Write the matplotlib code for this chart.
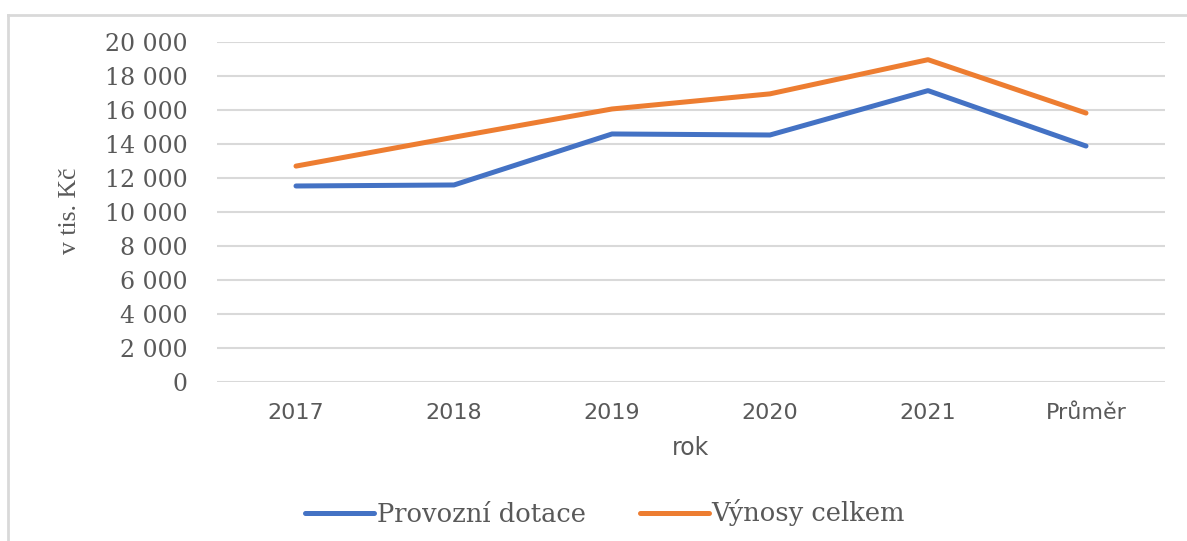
import numpy as np
import matplotlib.pyplot as plt
from matplotlib.lines import Line2D
from matplotlib.ticker import FuncFormatter

categories = ['2017', '2018', '2019', '2020', '2021', 'Průměr']
provozni_dotace = [11530, 11590, 14590, 14530, 17140, 13880]
vynosy_celkem = [12700, 14400, 16060, 16950, 18960, 15820]
yticks = np.arange(0, 20001, 2000)

grey = '#595959'
serif = ['DejaVu Serif']
times = ['Liberation Serif', 'DejaVu Serif']
sans = ['DejaVu Sans']

W, H = 1187, 541
fig = plt.figure(figsize=(W / 100, H / 100), dpi=100)
ax = fig.add_axes([217 / W, 1 - 382 / H, (1165 - 217) / W, (382 - 42) / H])

x = np.arange(len(categories))
ax.plot(x, provozni_dotace, color='#4472C4', lw=3.6, solid_capstyle='round',
        solid_joinstyle='round', label='Provozní dotace', zorder=3)
ax.plot(x, vynosy_celkem, color='#ED7D31', lw=3.6, solid_capstyle='round',
        solid_joinstyle='round', label='Výnosy celkem', zorder=3)

ax.set_xlim(-0.5, len(categories) - 0.5)
ax.set_ylim(0, 20000)
ax.set_yticks(yticks)
ax.yaxis.set_major_formatter(FuncFormatter(lambda v, p: f'{int(v):,}'.replace(',', ' ')))
ax.set_xticks(x)
ax.set_xticklabels(categories)
ax.grid(axis='y', color='#d9d9d9', lw=1.5)
ax.set_axisbelow(True)
for s in ax.spines.values():
    s.set_visible(False)
ax.tick_params(axis='y', length=0, pad=21, labelsize=17, labelcolor=grey)
ax.tick_params(axis='x', length=0, pad=15, labelsize=16, labelcolor=grey)
for t in ax.get_yticklabels():
    t.set_family(serif)
for t in ax.get_xticklabels():
    t.set_family(sans)

fig.text(70 / W, 1 - 211 / H, 'v tis. Kč', rotation=90, ha='center', va='center',
         family=times, fontsize=18.5, color=grey)
fig.text(690 / W, 1 - 455 / H, 'rok', ha='center', va='baseline',
         family=sans, fontsize=17, color=grey)

leg = fig.legend(loc='center', bbox_to_anchor=(605 / W, 1 - 513 / H), ncol=2,
                 frameon=False, handlelength=2.7, handletextpad=0.1,
                 columnspacing=2.1, prop={'family': serif, 'size': 18.5})
for t in leg.get_texts():
    t.set_color(grey)

# outer chart frame (left and top edges visible)
fig.add_artist(Line2D([8 / W, 8 / W], [0, 1 - 15 / H], transform=fig.transFigure,
                      color='#d9d9d9', lw=2))
fig.add_artist(Line2D([8 / W, 1], [1 - 15 / H, 1 - 15 / H], transform=fig.transFigure,
                      color='#d9d9d9', lw=2))

fig.savefig('out.png', dpi=100)
